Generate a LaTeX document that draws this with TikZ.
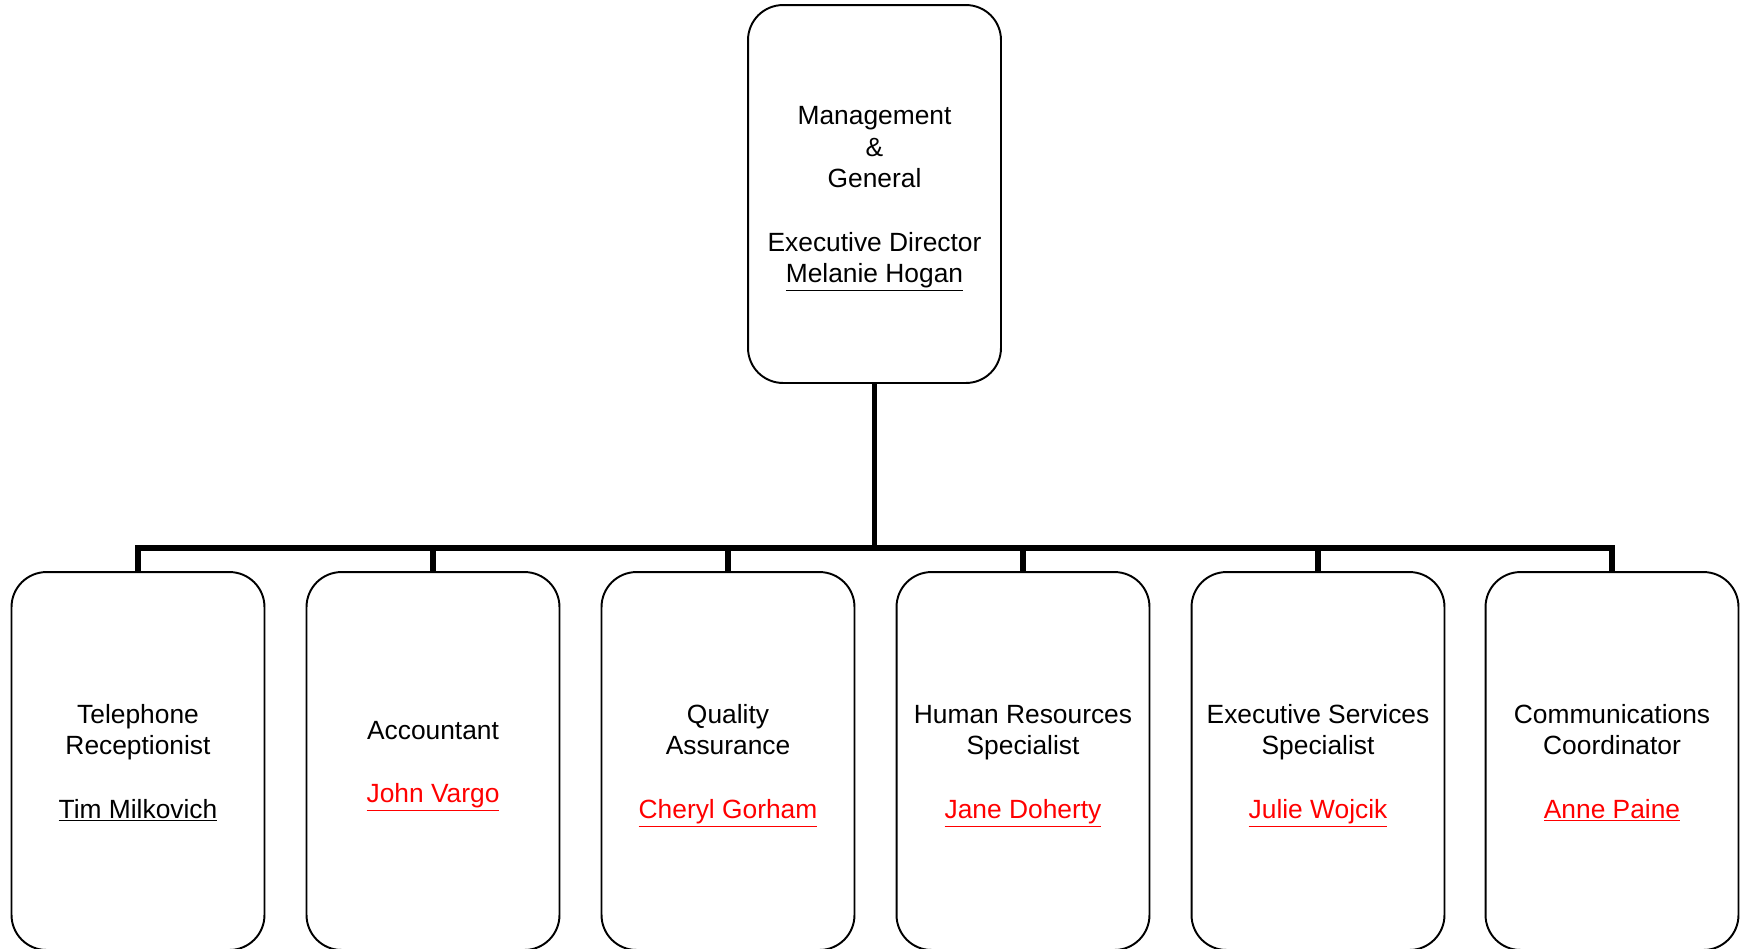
\documentclass[tikz,border=0pt]{standalone}
\usepackage{fontspec}
\setmainfont{Liberation Sans}
% first line a bit taller so the text sits like the original
\newcommand{\topstrut}{\rule{0pt}{16.4pt}}
\begin{document}
\begin{tikzpicture}[x=0.02cm,y=-0.02cm,
  post/.style={draw,rounded corners=0.7cm,line width=1.1pt,fill=white,
    minimum width=5.06cm,minimum height=7.56cm,inner sep=0pt,outer sep=0pt,
    align=center,font=\fontsize{15}{18}\selectfont},
  wire/.style={line width=3.1pt}]
  % page frame (the lower row runs off the bottom)
  \clip (0,0) rectangle (1741,948);

  % the connector bus
  \coordinate (bus) at (874.5,548);

  % Draw the boxes
  \node [post] (MG) at (874.5,194) {\topstrut Management\\\&\\General\\[18pt]Executive Director\\\underline{Melanie Hogan}\strut};
  \node [post] (TR) at (138,761)  {\topstrut Telephone\\Receptionist\\[18pt]\underline{Tim Milkovich}\strut};
  \node [post] (AC) at (433,761)  {\topstrut Accountant\\[18pt]\textcolor{red}{\underline{John Vargo}}\strut};
  \node [post] (QA) at (728,761)  {\topstrut Quality\\Assurance\\[18pt]\textcolor{red}{\underline{Cheryl Gorham}}\strut};
  \node [post] (HR) at (1023,761) {\topstrut Human Resources\\Specialist\\[18pt]\textcolor{red}{\underline{Jane Doherty}}\strut};
  \node [post] (ES) at (1318,761) {\topstrut Executive Services\\Specialist\\[18pt]\textcolor{red}{\underline{Julie Wojcik}}\strut};
  \node [post] (CC) at (1612,761) {\topstrut Communications\\Coordinator\\[18pt]\textcolor{red}{\underline{Anne Paine}}\strut};

  % edge connectors
  \foreach \b in {TR,AC,QA,HR,ES,CC}
    \draw [wire] (MG.south) -- (bus) -| (\b.north);

\end{tikzpicture}
\end{document}
